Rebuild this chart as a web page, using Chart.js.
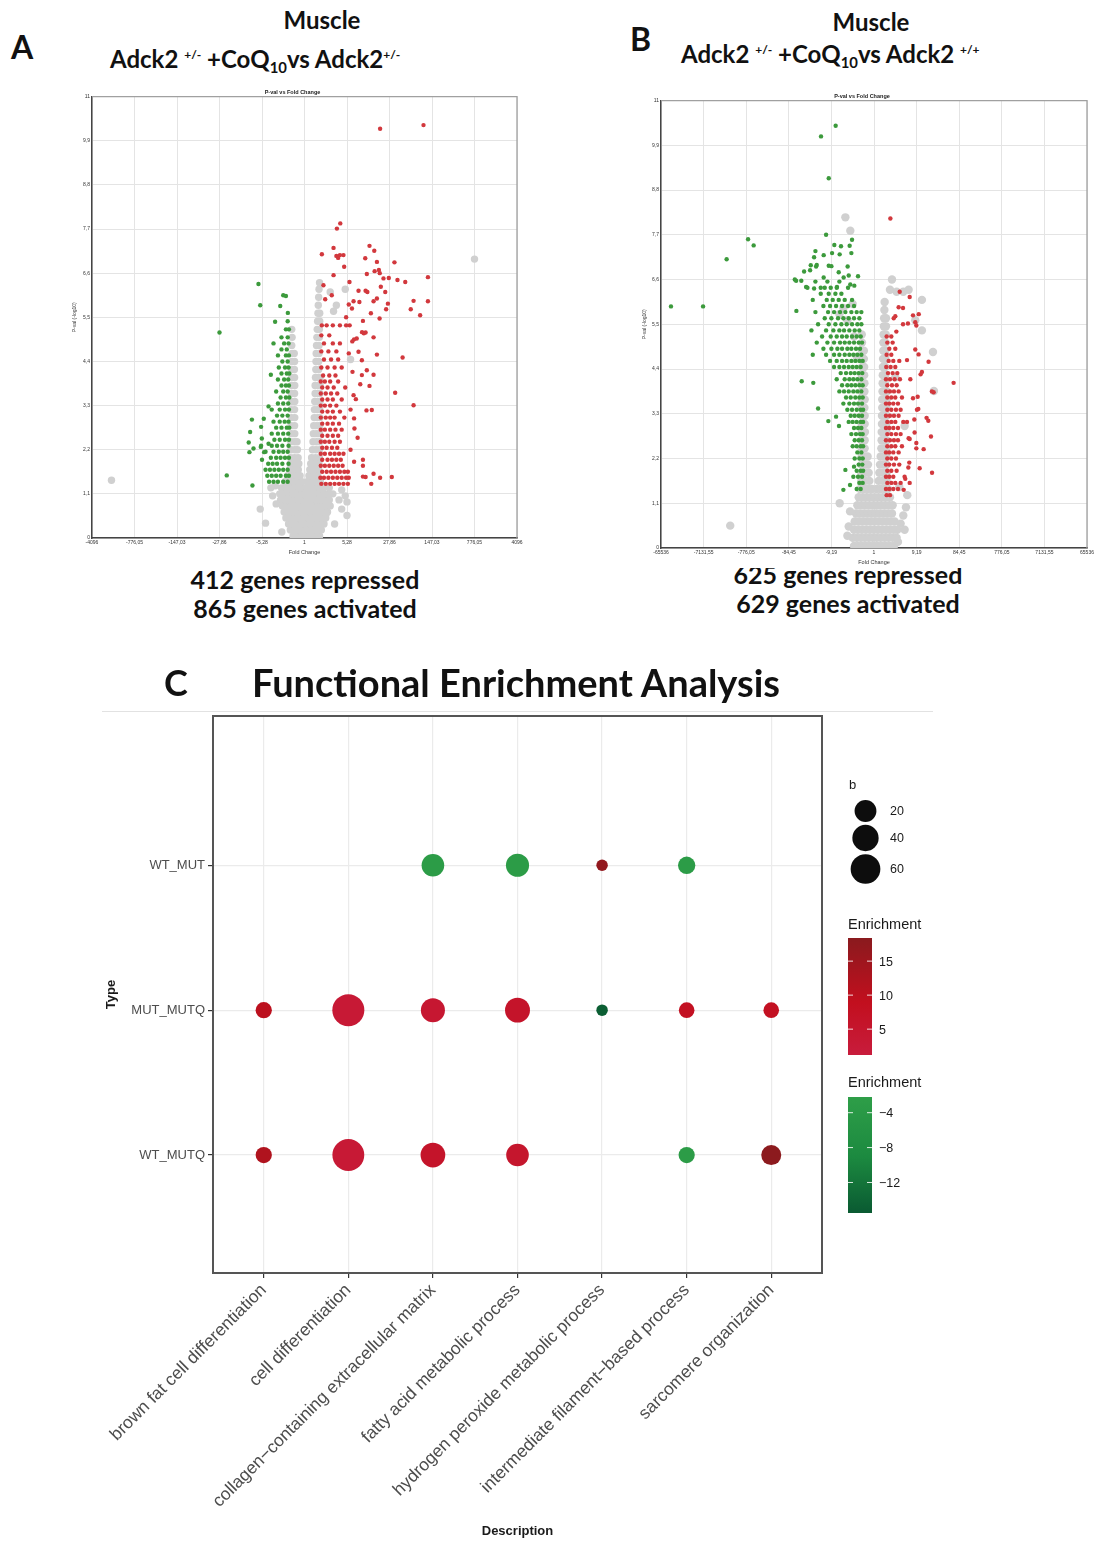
<!DOCTYPE html>
<html>
<head>
<meta charset="utf-8">
<script src="https://cdn.jsdelivr.net/npm/chart.js@4.4.1/dist/chart.umd.min.js"></script>
<style>
  body { margin: 0; width: 1095px; height: 1541px; position: relative; background: #fff; overflow: hidden; font-family: Lato, 'Noto Sans', sans-serif; }
  .t { position: absolute; font-weight: 700; color: #111; white-space: nowrap; line-height: 1; z-index: 1; }
  .t sup { font-size: 0.5em; vertical-align: 0.75em; }
  .t sub { font-size: 0.62em; vertical-align: -0.32em; }
  .c { text-align: center; }
  canvas { position: absolute; }
  #volcanoB { background: #fff; z-index: 2; }
  .rule { position: absolute; left: 102px; top: 711px; width: 831px; height: 1px; background: #e2e2e2; }
</style>
</head>
<body>
<div class="t" style="left:11px;top:31px;font-size:32px">A</div>
<div class="t c" style="left:222px;top:8px;width:200px;font-size:24px">Muscle</div>
<div class="t" style="left:110px;top:47px;font-size:24px">Adck2 <sup>+/-</sup> +CoQ<sub>10</sub>vs Adck2<sup>+/-</sup></div>
<div class="t" style="left:630px;top:23px;font-size:32px">B</div>
<div class="t c" style="left:771px;top:10px;width:200px;font-size:24px">Muscle</div>
<div class="t" style="left:681px;top:42px;font-size:24px">Adck2 <sup>+/-</sup> +CoQ<sub>10</sub>vs Adck2 <sup>+/+</sup></div>
<div class="t c" style="left:155px;top:567px;width:300px;font-size:25px">412 genes repressed</div>
<div class="t c" style="left:155px;top:596px;width:300px;font-size:25px">865 genes activated</div>
<div class="t c" style="left:698px;top:562px;width:300px;font-size:25px">625 genes repressed</div>
<div class="t c" style="left:698px;top:591px;width:300px;font-size:25px">629 genes activated</div>
<div class="t" style="left:164px;top:664px;font-size:36px">C</div>
<div class="t" style="left:252px;top:663px;font-size:38px">Functional Enrichment Analysis</div>
<div class="rule"></div>

<canvas id="volcanoA" width="464" height="478" style="left:68px;top:82px"></canvas>
<canvas id="volcanoB" width="458" height="482" style="left:637px;top:86px"></canvas>
<canvas id="enrich" width="850" height="845" style="left:95px;top:700px"></canvas>

<script>
// ---- volcano A: x = log2 fold change, y = -log10 p ----
const aXTicks = [-12, -9.6, -7.2, -4.8, -2.4, 0, 2.4, 4.8, 7.2, 9.6, 12]
const aXLabels = ['-4096', '-776,05', '-147,03', '-27,86', '-5,28', '1', '5,28', '27,86', '147,03', '776,05', '4096']
const yTicks = [0, 1.1, 2.2, 3.3, 4.4, 5.5, 6.6, 7.7, 8.8, 9.9, 11]
const yLabels = ['0', '1,1', '2,2', '3,3', '4,4', '5,5', '6,6', '7,7', '8,8', '9,9', '11']

// rows are [y, x, x, ...] for the dense parts, spots are [x, y]
const aGreenRows = [
  [1.4, -2.0, -1.75, -1.5, -1.2, -0.95],
  [1.55, -2.1, -1.85, -1.6, -1.35, -1.05, -0.88],
  [1.7, -1.95, -1.7, -1.45, -1.2, -0.95],
  [1.85, -2.05, -1.8, -1.55, -1.25, -0.9],
  [2.0, -1.9, -1.6, -1.35, -1.1, -0.88],
  [2.15, -2.2, -1.75, -1.45, -1.2, -0.95],
  [2.3, -2.45, -1.85, -1.55, -1.25, -0.9],
  [2.45, -1.7, -1.4, -1.1, -0.88],
  [2.6, -1.85, -1.5, -1.2, -0.92],
  [2.75, -1.6, -1.3, -1.0, -0.86],
  [2.9, -1.75, -1.4, -1.12, -0.9],
  [3.05, -1.55, -1.25, -0.95],
  [3.2, -1.85, -1.4, -1.1, -0.88],
  [3.35, -1.5, -1.2, -0.92],
  [3.5, -1.35, -1.05, -0.86],
  [3.65, -1.6, -1.2, -0.95],
  [3.8, -1.3, -1.05, -0.88],
  [3.95, -1.5, -1.15, -0.92],
  [4.1, -1.3, -1.0, -0.86],
  [4.25, -1.45, -1.1, -0.9],
  [4.4, -1.25, -0.95],
  [4.55, -1.5, -1.05, -0.88],
  [4.7, -1.3, -1.0],
  [4.85, -1.15, -0.9],
  [5.0, -1.3, -0.95],
  [5.2, -1.05, -0.88],
  [5.4, -0.95]
]
const aGreenSpots = [
  [-2.6, 6.33], [-2.5, 5.8], [-4.8, 5.12], [-4.39, 1.56], [-2.94, 1.31], [-3.15, 2.38], [-3.11, 2.14],
  [-2.88, 2.23], [-2.47, 2.27], [-2.41, 2.48], [-2.28, 2.14], [-2.03, 2.35], [-2.97, 2.95], [-3.07, 2.64],
  [-2.3, 2.97], [-2.45, 2.77], [-2.03, 3.28], [-1.9, 4.07], [-1.75, 4.85], [-1.66, 5.39], [-1.37, 5.78],
  [-1.2, 6.05], [-1.05, 6.03], [-0.94, 5.61], [-2.2, 1.7], [-2.4, 1.95]
]
const aRedRows = [
  [1.35, 0.95, 1.2, 1.45, 1.7, 1.95, 2.2, 2.45],
  [1.5, 0.9, 1.1, 1.35, 1.6, 1.85, 2.1, 2.35, 2.5],
  [1.65, 1.0, 1.25, 1.5, 1.75, 2.0, 2.25, 2.45],
  [1.8, 0.92, 1.15, 1.4, 1.65, 1.9, 2.15],
  [1.95, 1.0, 1.3, 1.55, 1.8, 2.05],
  [2.1, 0.92, 1.15, 1.45, 1.7, 1.95, 2.2],
  [2.25, 1.0, 1.25, 1.55, 1.85],
  [2.4, 0.92, 1.15, 1.4, 1.7, 2.0],
  [2.55, 1.0, 1.3, 1.6, 1.9],
  [2.7, 0.92, 1.15, 1.45, 1.75, 2.1],
  [2.85, 1.0, 1.3, 1.6, 1.95],
  [3.0, 0.92, 1.2, 1.45, 1.7, 2.25],
  [3.15, 1.0, 1.3, 1.6, 2.0],
  [3.3, 0.92, 1.15, 1.45, 1.8],
  [3.45, 1.0, 1.3, 1.6, 2.1],
  [3.6, 0.92, 1.2, 1.5, 1.85],
  [3.75, 1.0, 1.3, 1.65, 2.3],
  [3.9, 0.92, 1.15, 1.45, 1.9],
  [4.05, 1.05, 1.4, 1.75],
  [4.25, 0.95, 1.3, 1.7, 2.1],
  [4.45, 1.1, 1.5, 1.9],
  [4.65, 0.95, 1.35, 1.8],
  [4.85, 1.1, 1.6, 2.0],
  [5.05, 0.95, 1.4],
  [5.3, 0.98, 1.25, 1.6, 2.0, 2.35]
]
const aRedSpots = [
  [4.27, 10.2], [6.72, 10.29], [2.02, 7.84], [1.83, 7.71], [1.64, 7.23], [0.98, 7.07], [1.8, 7.03],
  [2.0, 7.05], [2.2, 7.05], [1.9, 6.98], [2.24, 6.76], [1.64, 6.55], [3.67, 7.28], [3.94, 7.16],
  [3.43, 6.97], [4.09, 6.88], [5.08, 6.87], [3.96, 6.65], [4.2, 6.68], [4.25, 6.6], [3.52, 6.58],
  [4.46, 6.47], [4.76, 6.48], [5.25, 6.43], [5.69, 6.38], [6.97, 6.5], [2.54, 6.38], [1.07, 6.3],
  [3.05, 6.16], [3.45, 6.16], [3.55, 6.13], [4.31, 6.26], [4.56, 6.13], [1.54, 6.05], [1.17, 5.95],
  [4.09, 5.97], [3.9, 5.9], [2.77, 5.9], [3.1, 5.88], [4.71, 5.84], [6.16, 5.91], [6.97, 5.9],
  [2.5, 5.82], [2.68, 5.72], [4.61, 5.7], [6.0, 5.7], [3.75, 5.6], [6.53, 5.55], [4.24, 5.47],
  [2.35, 5.5], [3.3, 5.41], [2.55, 5.3], [3.35, 5.1], [3.45, 5.12], [3.25, 5.13], [3.9, 5.0],
  [2.8, 4.95], [2.95, 4.97], [2.7, 4.9], [4.09, 4.57], [5.54, 4.5], [3.24, 4.43], [3.05, 4.64],
  [2.71, 4.14], [3.52, 4.18], [3.9, 4.07], [3.24, 4.06], [3.15, 3.83], [3.67, 3.79], [5.12, 3.62],
  [2.77, 3.56], [2.9, 3.46], [6.16, 3.31], [3.5, 3.18], [3.8, 3.19], [2.8, 2.98], [2.82, 2.73],
  [3.0, 2.5], [2.8, 1.9], [3.3, 1.95], [3.3, 1.8], [3.3, 1.53], [3.45, 1.52], [3.9, 1.6],
  [4.27, 1.5], [4.93, 1.52], [3.77, 1.35], [2.6, 2.2], [2.6, 3.2], [2.5, 4.6]
]
const aGrayRows = [
  [0.05, -0.65, -0.4, -0.15, 0.1, 0.35, 0.6, 0.85],
  [0.2, -0.8, -0.55, -0.3, -0.05, 0.2, 0.45, 0.7, 0.95],
  [0.35, -0.9, -0.65, -0.4, -0.15, 0.1, 0.35, 0.6, 0.85, 1.1],
  [0.5, -1.05, -0.8, -0.55, -0.3, -0.05, 0.2, 0.45, 0.7, 0.95, 1.2],
  [0.65, -1.15, -0.9, -0.65, -0.4, -0.15, 0.1, 0.35, 0.6, 0.85, 1.1, 1.3],
  [0.8, -1.25, -1.0, -0.75, -0.5, -0.25, 0, 0.25, 0.5, 0.75, 1.0, 1.25, 1.45],
  [0.95, -1.35, -1.1, -0.85, -0.6, -0.35, -0.1, 0.15, 0.4, 0.65, 0.9, 1.15, 1.4],
  [1.1, -1.4, -1.15, -0.9, -0.65, -0.4, -0.15, 0.1, 0.35, 0.6, 0.85, 1.1, 1.35, 1.6],
  [1.25, -1.3, -1.05, -0.8, -0.55, -0.3, -0.08, 0.12, 0.35, 0.6, 0.85, 1.1, 1.4],
  [1.4, -1.1, -0.85, -0.6, -0.35, -0.15, 0.15, 0.4, 0.65, 0.9],
  [1.55, -0.95, -0.7, -0.45, -0.25, 0.25, 0.5, 0.75],
  [1.7, -0.85, -0.6, -0.35, 0.3, 0.55, 0.8],
  [1.85, -0.8, -0.55, -0.32, 0.35, 0.6, 0.82],
  [2.0, -0.78, -0.56, -0.36, 0.4, 0.62, 0.84],
  [2.2, -0.76, -0.55, -0.4, 0.45, 0.65, 0.85],
  [2.4, -0.77, -0.57, -0.42, 0.48, 0.68, 0.86],
  [2.6, -0.75, -0.55, 0.5, 0.68, 0.85],
  [2.8, -0.76, -0.56, 0.52, 0.7, 0.86],
  [3.0, -0.74, -0.55, 0.55, 0.72, 0.87],
  [3.2, -0.75, -0.56, 0.56, 0.72, 0.86],
  [3.4, -0.73, -0.55, 0.58, 0.74, 0.88],
  [3.6, -0.74, -0.56, 0.6, 0.75, 0.87],
  [3.8, -0.72, -0.55, 0.6, 0.76, 0.88],
  [4.0, -0.73, -0.56, 0.62, 0.78, 0.88],
  [4.2, -0.72, -0.57, 0.64, 0.8],
  [4.4, -0.7, -0.56, 0.65, 0.8],
  [4.6, -0.7, -0.58, 0.66, 0.82],
  [4.8, -0.72, 0.68, 0.82],
  [5.0, -0.7, 0.7, 0.84],
  [5.2, -0.72, 0.72, 0.84],
  [5.4, 0.74, 0.86],
  [5.6, 0.76, 0.86],
  [5.8, 0.78],
  [6.0, 0.8],
  [6.2, 0.82]
]
const aGraySpots = [
  [-10.9, 1.44], [9.6, 6.95], [-2.5, 0.72], [-2.2, 0.37], [2.4, 0.9], [2.4, 0.56], [0.85, 6.36],
  [-1.8, 1.05], [-1.65, 1.3], [2.1, 1.2], [2.3, 1.05], [1.95, 0.95], [2.1, 0.72], [-1.28, 0.15],
  [1.22, 0.6], [-1.6, 0.85], [-1.9, 1.25], [1.7, 0.35], [1.45, 6.13], [1.64, 5.65], [2.6, 4.45],
  [1.8, 5.8], [2.3, 6.2]
]

// ---- volcano B ----
const bXTicks = [-16, -12.8, -9.6, -6.4, -3.2, 0, 3.2, 6.4, 9.6, 12.8, 16]
const bXLabels = ['-65536', '-7131,55', '-776,05', '-84,45', '-9,19', '1', '9,19', '84,45', '776,05', '7131,55', '65536']

const bGreenRows = [
  [1.45, -1.3, -1.0],
  [1.6, -1.1, -0.85],
  [1.75, -1.55, -1.2, -0.9],
  [1.9, -1.3, -1.0, -0.82],
  [2.05, -1.15, -0.88],
  [2.2, -1.45, -1.1, -0.85],
  [2.35, -1.25, -0.95],
  [2.5, -1.6, -1.3, -1.0, -0.82],
  [2.65, -1.45, -1.15, -0.9],
  [2.8, -1.7, -1.35, -1.05, -0.85],
  [2.95, -1.5, -1.2, -0.95],
  [3.1, -1.9, -1.6, -1.3, -1.0, -0.82],
  [3.25, -1.75, -1.45, -1.15, -0.9],
  [3.4, -2.0, -1.65, -1.3, -1.0, -0.82],
  [3.55, -2.3, -1.85, -1.5, -1.2, -0.9],
  [3.7, -2.1, -1.75, -1.4, -1.1, -0.85],
  [3.85, -2.6, -2.25, -1.9, -1.55, -1.25, -0.95],
  [4.0, -2.4, -2.0, -1.7, -1.4, -1.1, -0.85],
  [4.15, -2.8, -2.2, -1.85, -1.55, -1.25, -0.95],
  [4.3, -2.5, -2.1, -1.75, -1.45, -1.15, -0.88],
  [4.45, -3.0, -2.6, -2.25, -1.9, -1.6, -1.3, -1.0],
  [4.6, -3.3, -2.8, -2.4, -2.05, -1.7, -1.4, -1.1, -0.85],
  [4.75, -4.6, -3.6, -3.0, -2.6, -2.2, -1.85, -1.55, -1.25, -0.95],
  [4.9, -3.8, -3.2, -2.75, -2.4, -2.0, -1.7, -1.35, -1.05],
  [5.05, -4.3, -3.5, -3.0, -2.55, -2.2, -1.85, -1.5, -1.15, -0.9],
  [5.2, -3.9, -3.25, -2.8, -2.4, -2.05, -1.65, -1.3, -1.0],
  [5.35, -4.7, -3.6, -3.05, -2.6, -2.25, -1.85, -1.45, -1.1],
  [5.5, -4.2, -3.4, -2.9, -2.45, -2.05, -1.65, -1.25, -0.95],
  [5.65, -3.7, -3.2, -2.7, -2.3, -1.9, -1.5, -1.1],
  [5.8, -4.4, -3.45, -3.0, -2.55, -2.15, -1.7, -1.3, -0.95],
  [5.95, -3.8, -3.3, -2.85, -2.4, -1.95, -1.5],
  [6.1, -4.6, -3.55, -3.1, -2.65, -2.2, -1.65],
  [6.25, -4.0, -3.4, -2.9, -2.45],
  [6.4, -5.0, -3.7, -3.25, -2.8, -1.95],
  [6.55, -4.4, -3.5, -2.6]
]
const bGreenSpots = [
  [-2.88, 10.38], [-3.98, 10.12], [-3.4, 9.09], [-3.6, 7.7], [-9.46, 7.59], [-9.04, 7.44], [-11.07, 7.1],
  [-15.25, 5.94], [-12.84, 5.94], [-5.83, 5.83], [-5.43, 4.1], [-4.56, 4.06], [-4.2, 3.43], [-3.43, 3.12],
  [-2.85, 3.23], [-2.63, 3.0], [-2.3, 1.43], [-2.15, 1.92], [-4.4, 7.3], [-4.5, 7.15], [-4.75, 6.95],
  [-4.35, 6.92], [-5.95, 6.6], [-5.85, 6.57], [-5.46, 6.57], [-5.25, 6.8], [-4.8, 6.83], [-1.65, 7.58],
  [-2.98, 7.45], [-2.48, 7.42], [-1.83, 7.43], [-3.15, 7.25], [-3.78, 7.2], [-2.58, 7.22], [-1.7, 7.25],
  [-4.3, 6.96], [-3.4, 6.94], [-3.2, 6.93], [-1.98, 6.92], [-3.78, 6.65], [-2.65, 6.78], [-2.28, 6.65],
  [-1.9, 6.7], [-1.2, 6.68], [-5.1, 6.42], [-4.5, 6.38], [-4.0, 6.4], [-2.78, 6.42], [-1.78, 6.48],
  [-1.48, 6.45], [-1.5, 2.0], [-1.8, 1.55]
]
const bRedRows = [
  [1.3, 0.95, 1.2],
  [1.45, 0.9, 1.15, 1.45, 1.8],
  [1.6, 1.0, 1.3, 1.6, 2.0],
  [1.75, 0.9, 1.15, 1.45, 2.3],
  [1.9, 1.0, 1.3, 1.7],
  [2.05, 0.9, 1.15, 1.5, 1.9],
  [2.2, 1.0, 1.3, 1.65],
  [2.35, 0.9, 1.15, 1.45, 1.85],
  [2.5, 1.0, 1.3, 1.6, 2.1],
  [2.65, 0.9, 1.2, 1.5, 1.8],
  [2.8, 1.0, 1.3, 1.65, 2.0],
  [2.95, 0.9, 1.15, 1.45, 1.8],
  [3.1, 1.0, 1.3, 1.6, 2.2],
  [3.25, 0.9, 1.2, 1.5, 1.85],
  [3.4, 1.0, 1.3, 1.65, 2.0],
  [3.55, 0.9, 1.15, 1.45, 1.8],
  [3.7, 1.0, 1.3, 1.6, 2.1],
  [3.85, 0.9, 1.2, 1.5, 1.85],
  [4.0, 1.0, 1.35, 1.7],
  [4.15, 0.9, 1.2, 1.55, 1.95],
  [4.3, 1.05, 1.4, 1.75],
  [4.45, 0.92, 1.25, 1.6],
  [4.6, 1.1, 1.45, 1.9],
  [4.75, 0.95, 1.3],
  [4.9, 1.15, 1.6],
  [5.05, 1.0, 1.4],
  [5.2, 0.95, 1.3]
]
const bRedSpots = [
  [1.23, 8.1], [1.93, 6.3], [2.68, 6.17], [1.85, 5.92], [2.18, 5.9], [1.6, 5.7], [1.48, 5.65],
  [2.93, 5.72], [3.36, 5.75], [3.1, 5.55], [3.18, 5.47], [2.18, 5.5], [2.55, 5.52], [1.68, 5.32],
  [3.1, 4.88], [3.35, 4.76], [4.1, 4.58], [2.48, 4.62], [3.6, 4.33], [3.5, 4.27], [2.73, 4.15],
  [5.98, 4.06], [4.35, 3.85], [4.48, 3.83], [3.28, 3.72], [2.93, 3.68], [3.33, 3.42], [3.23, 3.4],
  [3.03, 3.16], [3.95, 3.2], [4.08, 3.13], [2.48, 3.1], [2.6, 2.7], [2.68, 2.68], [3.05, 2.84],
  [3.18, 2.58], [4.28, 2.74], [3.73, 2.43], [3.18, 2.45], [2.65, 2.1], [2.58, 1.98], [3.43, 1.96],
  [4.36, 1.85], [2.35, 1.7], [2.68, 1.6], [2.23, 1.43]
]
const bGrayRows = [
  [0.05, -1.5, -1.2, -0.9, -0.6, -0.3, 0, 0.3, 0.6, 0.9, 1.2, 1.5],
  [0.25, -1.6, -1.3, -1.0, -0.7, -0.4, -0.1, 0.2, 0.5, 0.8, 1.1, 1.4, 1.7],
  [0.45, -1.5, -1.2, -0.9, -0.6, -0.3, 0, 0.3, 0.6, 0.9, 1.2, 1.5, 1.75],
  [0.65, -1.45, -1.15, -0.85, -0.55, -0.25, 0.05, 0.35, 0.65, 0.95, 1.25, 1.55],
  [0.85, -1.35, -1.05, -0.75, -0.45, -0.15, 0.15, 0.45, 0.75, 1.05, 1.35],
  [1.05, -1.25, -0.95, -0.65, -0.35, -0.05, 0.25, 0.55, 0.85, 1.15, 1.4],
  [1.25, -1.15, -0.85, -0.55, -0.25, 0.05, 0.35, 0.65, 0.95, 1.2],
  [1.45, -1.05, -0.75, -0.45, -0.15, 0.2, 0.5, 0.8, 1.05],
  [1.65, -0.95, -0.65, -0.35, 0.35, 0.65, 0.95],
  [1.85, -0.95, -0.65, -0.4, 0.4, 0.7, 0.95],
  [2.05, -0.94, -0.68, -0.45, 0.45, 0.7, 0.94],
  [2.25, -0.92, -0.68, -0.48, 0.5, 0.72, 0.93],
  [2.45, -0.93, -0.7, 0.55, 0.74, 0.94],
  [2.65, -0.92, -0.7, 0.57, 0.75, 0.93],
  [2.85, -0.9, -0.68, 0.58, 0.76, 0.94],
  [3.05, -0.92, -0.7, 0.6, 0.78, 0.93],
  [3.25, -0.9, -0.7, 0.6, 0.78, 0.95],
  [3.45, -0.92, -0.72, 0.62, 0.8, 0.94],
  [3.65, -0.9, -0.7, 0.62, 0.8, 0.95],
  [3.85, -0.92, -0.72, 0.64, 0.82, 0.95],
  [4.05, -0.9, -0.72, 0.65, 0.82],
  [4.25, -0.92, -0.74, 0.66, 0.84],
  [4.45, -0.9, -0.74, 0.67, 0.85],
  [4.65, -0.92, -0.76, 0.68, 0.86],
  [4.85, -0.9, -0.76, 0.7, 0.86],
  [5.05, -0.9, 0.7, 0.88],
  [5.25, -0.92, 0.72, 0.88],
  [5.45, 0.74, 0.9],
  [5.65, 0.76, 0.9],
  [5.85, 0.78],
  [6.05, 0.8]
]
const bGraySpots = [
  [-10.8, 0.55], [-2.58, 1.1], [-1.9, 0.53], [2.0, 0.6], [2.3, 0.45], [2.4, 1.0], [2.5, 1.3],
  [-2.15, 8.13], [-1.78, 7.8], [1.35, 6.6], [1.2, 6.35], [1.7, 6.3], [2.2, 6.3], [2.6, 6.35],
  [3.6, 6.1], [3.1, 5.6], [3.6, 5.35], [4.43, 4.82], [4.5, 3.86], [-2.3, 5.9], [-2.0, 5.6],
  [-2.6, 5.75], [-1.5, 5.2], [-1.3, 4.7], [-1.6, 6.0], [1.9, 1.5], [2.2, 0.8], [-1.8, 0.9],
  [-2.0, 0.3], [1.8, 0.15], [2.3, 3.0], [1.6, 4.2]
]

// ---- C: functional enrichment ----
const cTerms = ['brown fat cell differentiation', 'cell differentiation', 'collagen\u2212containing extracellular matrix',
  'fatty acid metabolic process', 'hydrogen peroxide metabolic process', 'intermediate filament\u2212based process',
  'sarcomere organization']
const cTypes = ['WT_MUTQ', 'MUT_MUTQ', 'WT_MUT']
const cCountWtMutq = [5, 75, 32, 23, null, 5, 14]
const cEnrichWtMutq = [12, 3, 6, 5, null, -3, 18]
const cCountMutMutq = [5, 76, 29, 33, 1, 4, 4]
const cEnrichMutMutq = [10, 3, 4, 6, -15, 8, 8]
const cCountWtMut = [null, null, 23, 25, 1, 7, null]
const cEnrichWtMut = [null, null, -3, -3, 17, -3, null]
const cSizeBreaks = [20, 40, 60]
const cRedTicks = [15, 10, 5]
const cGreenTicks = [-4, -8, -12]
const cRedRange = [1.2, 18.4]
const cGreenRange = [-15.5, -2.2]

Chart.defaults.font.family = "'Liberation Sans', Arial, sans-serif"

function fromRows (rows) {
  const pts = []
  rows.forEach(r => {
    for (let i = 1; i < r.length; i++) pts.push({ x: r[i], y: r[0] })
  })
  return pts
}

function fromPairs (pairs) {
  return pairs.map(p => ({ x: p[0], y: p[1] }))
}

// light top and right edge of the plot frame
const frame = {
  id: 'frame',
  afterDraw (chart, args, opts) {
    const { ctx, chartArea: a } = chart
    ctx.save()
    ctx.strokeStyle = opts.color
    ctx.lineWidth = opts.width
    ctx.beginPath()
    if (opts.all) {
      ctx.rect(a.left, a.top, a.right - a.left, a.bottom - a.top)
    } else {
      ctx.moveTo(a.left, a.top)
      ctx.lineTo(a.right, a.top)
      ctx.lineTo(a.right, a.bottom)
    }
    ctx.stroke()
    ctx.restore()
  }
}

function volcano (id, o) {
  const tiny = { size: 5 }
  new Chart(document.getElementById(id), {
    type: 'scatter',
    data: {
      datasets: [
        { data: fromRows(o.green).concat(fromPairs(o.greenSpots)), backgroundColor: '#3c9a3c', pointRadius: 2.2, borderWidth: 0, order: 1 },
        { data: fromRows(o.red).concat(fromPairs(o.redSpots)), backgroundColor: '#d2383d', pointRadius: 2.2, borderWidth: 0, order: 1 },
        { data: fromRows(o.gray).concat(fromPairs(o.graySpots)), backgroundColor: '#d0d0d0', pointRadius: o.grayRadius, borderWidth: 0, order: 2 }
      ]
    },
    options: {
      responsive: false,
      animation: false,
      events: [],
      layout: { padding: { right: o.padRight, top: 0, bottom: 0, left: 0 } },
      plugins: {
        legend: { display: false },
        tooltip: { enabled: false },
        title: { display: true, text: 'P-val vs Fold Change', color: '#222', font: { size: 5.5, weight: 'bold' }, padding: { top: 7, bottom: 1 } },
        frame: { color: '#a0a0a0', width: 1.3 }
      },
      scales: {
        x: {
          type: 'linear',
          min: o.xTicks[0],
          max: o.xTicks[o.xTicks.length - 1],
          afterBuildTicks: s => { s.ticks = o.xTicks.map(v => ({ value: v })) },
          afterFit: s => { s.height = o.xHeight; s.paddingLeft = 0; s.paddingRight = 0 },
          ticks: { callback: (v, i) => o.xLabels[i], font: tiny, color: '#333', padding: 2, autoSkip: false, maxRotation: 0 },
          grid: { color: '#e4e4e4', drawTicks: false },
          border: { color: '#444', width: 1.5 },
          title: { display: true, text: 'Fold Change', font: { size: 5.5 }, color: '#333', padding: { top: 0, bottom: o.xTitlePad } }
        },
        y: {
          type: 'linear',
          min: 0,
          max: 11,
          afterBuildTicks: s => { s.ticks = yTicks.map(v => ({ value: v })) },
          afterFit: s => { s.width = 24; s.paddingTop = 0; s.paddingBottom = 0 },
          ticks: { callback: (v, i) => yLabels[i], font: tiny, color: '#333', padding: 2, autoSkip: false },
          grid: { color: '#e4e4e4', drawTicks: false },
          border: { color: '#444', width: 1.5 },
          title: { display: true, text: 'P-val (-log10)', font: { size: 5 }, color: '#333', padding: { top: o.yTitlePad, bottom: 0 } }
        }
      }
    },
    plugins: [frame]
  })
}

volcano('volcanoA', {
  green: aGreenRows, greenSpots: aGreenSpots, red: aRedRows, redSpots: aRedSpots, gray: aGrayRows, graySpots: aGraySpots,
  xTicks: aXTicks, xLabels: aXLabels, padRight: 15, xHeight: 22, xTitlePad: 4.5, yTitlePad: 3.5, grayRadius: 3.7
})
volcano('volcanoB', {
  green: bGreenRows, greenSpots: bGreenSpots, red: bRedRows, redSpots: bRedSpots, gray: bGrayRows, graySpots: bGraySpots,
  xTicks: bXTicks, xLabels: bXLabels, padRight: 8, xHeight: 20, xTitlePad: 2.5, yTitlePad: 4.5, grayRadius: 4.2
})

// ---- enrichment bubble chart ----
const redStops = [[1.2, [200, 28, 60]], [9, [194, 15, 30]], [18.4, [138, 26, 30]]]
const greenStops = [[-15.5, [10, 90, 50]], [-9, [28, 138, 64]], [-2.2, [46, 158, 72]]]

function fromStops (stops, v) {
  if (v <= stops[0][0]) return stops[0][1]
  for (let i = 1; i < stops.length; i++) {
    if (v <= stops[i][0]) {
      const [v0, c0] = stops[i - 1]
      const [v1, c1] = stops[i]
      const t = (v - v0) / (v1 - v0)
      return c0.map((c, k) => Math.round(c + (c1[k] - c) * t))
    }
  }
  return stops[stops.length - 1][1]
}

function enrichColor (e) {
  const c = e > 0 ? fromStops(redStops, e) : fromStops(greenStops, e)
  return `rgb(${c[0]},${c[1]},${c[2]})`
}

// ggplot-like area scale for gene count b
function sizeOf (b) {
  return 5.75 + 1.185 * Math.sqrt(Math.max(b - 1, 0))
}

const cPoints = []
const cRows = [[cCountWtMutq, cEnrichWtMutq], [cCountMutMutq, cEnrichMutMutq], [cCountWtMut, cEnrichWtMut]]
cRows.forEach(([counts, enrich], row) => {
  counts.forEach((b, i) => {
    if (b !== null) cPoints.push({ x: i + 1, y: row + 1, b, e: enrich[i] })
  })
})

const enrichLegend = {
  id: 'enrichLegend',
  afterDraw (chart) {
    const { ctx, chartArea: a } = chart
    const left = a.right + 26
    ctx.save()
    ctx.fillStyle = '#1a1a1a'
    ctx.textBaseline = 'middle'
    ctx.font = "13px 'Liberation Sans', Arial"
    ctx.fillText('b', left + 1, 85)
    const cy = [111, 138, 169]
    cSizeBreaks.forEach((b, i) => {
      ctx.fillStyle = '#0d0d0d'
      ctx.beginPath()
      ctx.arc(left + 17.5, cy[i], sizeOf(b), 0, Math.PI * 2)
      ctx.fill()
      ctx.fillStyle = '#1a1a1a'
      ctx.font = "12.5px 'Liberation Sans', Arial"
      ctx.fillText(String(b), left + 42, cy[i] + 1)
    })

    const bar = (top, bottom, range, stops, ticks) => {
      const [lo, hi] = range
      const g = ctx.createLinearGradient(0, top, 0, bottom)
      stops.forEach(([v, c]) => g.addColorStop((hi - v) / (hi - lo), `rgb(${c[0]},${c[1]},${c[2]})`))
      ctx.fillStyle = g
      ctx.fillRect(left, top, 24, bottom - top)
      ticks.forEach(v => {
        const y = top + (hi - v) / (hi - lo) * (bottom - top)
        ctx.strokeStyle = 'rgba(255,255,255,0.85)'
        ctx.lineWidth = 1
        ctx.beginPath()
        ctx.moveTo(left, y); ctx.lineTo(left + 5, y)
        ctx.moveTo(left + 19, y); ctx.lineTo(left + 24, y)
        ctx.stroke()
        ctx.fillStyle = '#1a1a1a'
        ctx.font = "12.5px 'Liberation Sans', Arial"
        ctx.fillText(String(v).replace('-', '\u2212'), left + 31, y + 1)
      })
    }
    ctx.fillStyle = '#1a1a1a'
    ctx.font = "14.5px 'Liberation Sans', Arial"
    ctx.fillText('Enrichment', left, 225)
    bar(238, 355, cRedRange, redStops, cRedTicks)
    ctx.fillStyle = '#1a1a1a'
    ctx.font = "14.5px 'Liberation Sans', Arial"
    ctx.fillText('Enrichment', left, 383)
    bar(397, 513, cGreenRange, greenStops, cGreenTicks)
    ctx.restore()
  }
}

new Chart(document.getElementById('enrich'), {
  type: 'scatter',
  data: {
    datasets: [{
      data: cPoints,
      pointRadius: ctx => sizeOf(ctx.raw.b),
      backgroundColor: ctx => enrichColor(ctx.raw.e),
      borderWidth: 0
    }]
  },
  options: {
    responsive: false,
    animation: false,
    events: [],
    layout: { padding: { top: 16, right: 123, bottom: 0, left: 0 } },
    plugins: {
      legend: { display: false },
      tooltip: { enabled: false },
      frame: { color: '#555', width: 2, all: true }
    },
    scales: {
      x: {
        type: 'linear',
        min: 0.4,
        max: 7.6,
        afterBuildTicks: s => { s.ticks = cTerms.map((t, i) => ({ value: i + 1 })) },
        afterFit: s => { s.height = 272; s.paddingLeft = 0; s.paddingRight = 0 },
        ticks: { callback: (v, i) => cTerms[i], font: { size: 17.5 }, color: '#4d4d4d', padding: 2, autoSkip: false, minRotation: 45, maxRotation: 45 },
        grid: { color: '#ebebeb', lineWidth: 1.2, tickLength: 5, tickColor: '#333' },
        border: { color: '#555', width: 2 },
        title: { display: true, text: 'Description', font: { size: 13, weight: 'bold' }, color: '#1a1a1a', padding: { top: 0, bottom: 6 } }
      },
      y: {
        type: 'linear',
        min: 0.186,
        max: 4.03,
        afterBuildTicks: s => { s.ticks = cTypes.map((t, i) => ({ value: i + 1 })) },
        afterFit: s => { s.width = 118; s.paddingTop = 0; s.paddingBottom = 0 },
        ticks: { callback: (v, i) => cTypes[i], font: { size: 13 }, color: '#4d4d4d', padding: 3, autoSkip: false },
        grid: { color: '#ebebeb', lineWidth: 1.2, tickLength: 5, tickColor: '#333' },
        border: { color: '#555', width: 2 },
        title: { display: true, text: 'Type', font: { size: 13, weight: 'bold' }, color: '#1a1a1a', padding: { top: 9, bottom: 0 } }
      }
    }
  },
  plugins: [frame, enrichLegend]
})
</script>
</body>
</html>
